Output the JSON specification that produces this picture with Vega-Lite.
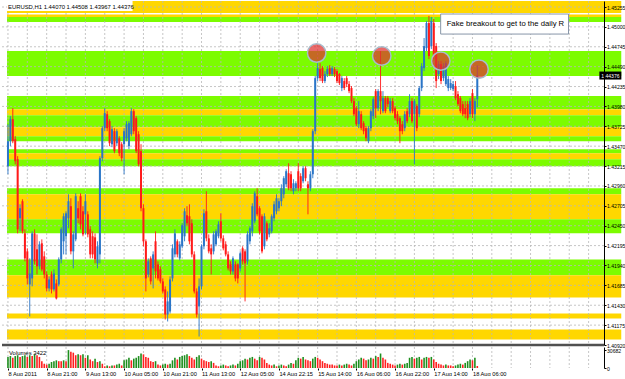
{
"$schema": "https://vega.github.io/schema/vega-lite/v6.json",
"background": "white",
"padding": 0,
"bounds": "flush",
"spacing": 2,
"config": {"view": {"stroke": null}, "font": "Liberation Sans", "axis": {"labelFont": "Liberation Sans", "labelColor": "#000000", "tickColor": "#000000", "domainColor": "#000000", "labelOverlap": false, "labelSeparation": 0}},
"datasets": {
"bars": [
{"i":0,"o":1.43213,"h":1.43752,"l":1.43110,"c":1.43534,"v":18993},
{"i":1,"o":1.43534,"h":1.43855,"l":1.43470,"c":1.43816,"v":20454},
{"i":2,"o":1.43816,"h":1.43958,"l":1.43508,"c":1.43534,"v":17532},
{"i":3,"o":1.43559,"h":1.43598,"l":1.43238,"c":1.43277,"v":20454},
{"i":4,"o":1.43303,"h":1.43342,"l":1.42352,"c":1.42404,"v":21915},
{"i":5,"o":1.42545,"h":1.42725,"l":1.42378,"c":1.42674,"v":18993},
{"i":6,"o":1.42764,"h":1.42789,"l":1.42352,"c":1.42378,"v":20454},
{"i":7,"o":1.42352,"h":1.42404,"l":1.41993,"c":1.42031,"v":21915},
{"i":8,"o":1.42121,"h":1.42160,"l":1.41697,"c":1.41774,"v":18993},
{"i":9,"o":1.41697,"h":1.42031,"l":1.41286,"c":1.41838,"v":21915},
{"i":10,"o":1.41774,"h":1.42378,"l":1.41672,"c":1.42352,"v":20454},
{"i":11,"o":1.42352,"h":1.42404,"l":1.41954,"c":1.41993,"v":23376},
{"i":12,"o":1.42147,"h":1.42339,"l":1.41825,"c":1.41929,"v":21915},
{"i":13,"o":1.41929,"h":1.42250,"l":1.41890,"c":1.42211,"v":18993},
{"i":14,"o":1.42224,"h":1.42275,"l":1.41864,"c":1.41890,"v":11688},
{"i":15,"o":1.42057,"h":1.42121,"l":1.41774,"c":1.41825,"v":7305},
{"i":16,"o":1.41825,"h":1.41864,"l":1.41607,"c":1.41646,"v":5844},
{"i":17,"o":1.41646,"h":1.41800,"l":1.41607,"c":1.41761,"v":7305},
{"i":18,"o":1.41825,"h":1.41864,"l":1.41581,"c":1.41633,"v":10227},
{"i":19,"o":1.41633,"h":1.41890,"l":1.41607,"c":1.41838,"v":11688},
{"i":20,"o":1.41710,"h":1.41761,"l":1.41504,"c":1.41517,"v":13149},
{"i":21,"o":1.41697,"h":1.42044,"l":1.41672,"c":1.42018,"v":11688},
{"i":22,"o":1.42018,"h":1.42430,"l":1.41967,"c":1.42404,"v":11688},
{"i":23,"o":1.42250,"h":1.42609,"l":1.42082,"c":1.42571,"v":13149},
{"i":24,"o":1.42314,"h":1.42635,"l":1.42082,"c":1.42609,"v":11688},
{"i":25,"o":1.42545,"h":1.42853,"l":1.42417,"c":1.42764,"v":30682},
{"i":26,"o":1.42700,"h":1.42802,"l":1.42082,"c":1.42121,"v":27759},
{"i":27,"o":1.42121,"h":1.42378,"l":1.41903,"c":1.42339,"v":26298},
{"i":28,"o":1.42275,"h":1.42866,"l":1.42250,"c":1.42828,"v":21915},
{"i":29,"o":1.42674,"h":1.42764,"l":1.42481,"c":1.42545,"v":23376},
{"i":30,"o":1.42828,"h":1.42866,"l":1.42404,"c":1.42468,"v":21915},
{"i":31,"o":1.42635,"h":1.42700,"l":1.42314,"c":1.42339,"v":23376},
{"i":32,"o":1.42596,"h":1.42853,"l":1.42339,"c":1.42764,"v":17532},
{"i":33,"o":1.42596,"h":1.42635,"l":1.42301,"c":1.42339,"v":21915},
{"i":34,"o":1.42404,"h":1.42443,"l":1.42031,"c":1.42082,"v":14610},
{"i":35,"o":1.42314,"h":1.42378,"l":1.42031,"c":1.42082,"v":11688},
{"i":36,"o":1.42301,"h":1.42352,"l":1.41967,"c":1.42018,"v":16071},
{"i":37,"o":1.41967,"h":1.42250,"l":1.41903,"c":1.42186,"v":10227},
{"i":38,"o":1.42082,"h":1.43342,"l":1.41967,"c":1.43316,"v":11688},
{"i":39,"o":1.43316,"h":1.43727,"l":1.43277,"c":1.43701,"v":7305},
{"i":40,"o":1.43701,"h":1.43958,"l":1.43662,"c":1.43893,"v":2922},
{"i":41,"o":1.43880,"h":1.43919,"l":1.43662,"c":1.43701,"v":4383},
{"i":42,"o":1.43791,"h":1.43816,"l":1.43470,"c":1.43508,"v":2922},
{"i":43,"o":1.43495,"h":1.43727,"l":1.43457,"c":1.43688,"v":4383},
{"i":44,"o":1.43662,"h":1.43701,"l":1.43380,"c":1.43406,"v":4383},
{"i":45,"o":1.43508,"h":1.43688,"l":1.43470,"c":1.43662,"v":5844},
{"i":46,"o":1.43572,"h":1.43598,"l":1.43342,"c":1.43380,"v":7305},
{"i":47,"o":1.43495,"h":1.43521,"l":1.43277,"c":1.43316,"v":4383},
{"i":48,"o":1.43495,"h":1.43701,"l":1.43110,"c":1.43662,"v":13149},
{"i":49,"o":1.43572,"h":1.43791,"l":1.43534,"c":1.43752,"v":14610},
{"i":50,"o":1.43470,"h":1.43791,"l":1.43431,"c":1.43765,"v":17532},
{"i":51,"o":1.43623,"h":1.43958,"l":1.43598,"c":1.43919,"v":13149},
{"i":52,"o":1.43919,"h":1.43945,"l":1.43623,"c":1.43662,"v":16071},
{"i":53,"o":1.43829,"h":1.43855,"l":1.43380,"c":1.43406,"v":17532},
{"i":54,"o":1.43623,"h":1.43662,"l":1.43213,"c":1.43238,"v":20454},
{"i":55,"o":1.43406,"h":1.43495,"l":1.42635,"c":1.42674,"v":24837},
{"i":56,"o":1.42674,"h":1.42725,"l":1.42186,"c":1.42250,"v":23376},
{"i":57,"o":1.42250,"h":1.42275,"l":1.41607,"c":1.41774,"v":18993},
{"i":58,"o":1.41825,"h":1.42031,"l":1.41787,"c":1.41993,"v":17532},
{"i":59,"o":1.42031,"h":1.42057,"l":1.41697,"c":1.41736,"v":11688},
{"i":60,"o":1.41903,"h":1.42121,"l":1.41646,"c":1.42082,"v":10227},
{"i":61,"o":1.42250,"h":1.42378,"l":1.41774,"c":1.41864,"v":11688},
{"i":62,"o":1.41954,"h":1.41993,"l":1.41748,"c":1.41774,"v":5844},
{"i":63,"o":1.41890,"h":1.41929,"l":1.41710,"c":1.41736,"v":4383},
{"i":64,"o":1.41736,"h":1.41774,"l":1.41581,"c":1.41607,"v":5844},
{"i":65,"o":1.41633,"h":1.41672,"l":1.41247,"c":1.41311,"v":7305},
{"i":66,"o":1.41311,"h":1.41607,"l":1.41222,"c":1.41479,"v":5844},
{"i":67,"o":1.41350,"h":1.41800,"l":1.41324,"c":1.41761,"v":7305},
{"i":68,"o":1.41774,"h":1.42211,"l":1.41736,"c":1.42160,"v":13149},
{"i":69,"o":1.42082,"h":1.42404,"l":1.42044,"c":1.42352,"v":17532},
{"i":70,"o":1.42250,"h":1.42275,"l":1.42044,"c":1.42082,"v":14610},
{"i":71,"o":1.42031,"h":1.42250,"l":1.42005,"c":1.42211,"v":18993},
{"i":72,"o":1.42186,"h":1.42481,"l":1.42160,"c":1.42456,"v":20454},
{"i":73,"o":1.42314,"h":1.42674,"l":1.42250,"c":1.42635,"v":21915},
{"i":74,"o":1.42584,"h":1.42700,"l":1.42443,"c":1.42481,"v":23376},
{"i":75,"o":1.42571,"h":1.42725,"l":1.42211,"c":1.42250,"v":20454},
{"i":76,"o":1.42481,"h":1.42532,"l":1.42044,"c":1.42082,"v":17532},
{"i":77,"o":1.42082,"h":1.42121,"l":1.41581,"c":1.41607,"v":14610},
{"i":78,"o":1.41607,"h":1.41646,"l":1.41273,"c":1.41311,"v":18993},
{"i":79,"o":1.41415,"h":1.41774,"l":1.41029,"c":1.41672,"v":21915},
{"i":80,"o":1.41672,"h":1.42211,"l":1.41633,"c":1.42186,"v":16071},
{"i":81,"o":1.42186,"h":1.42661,"l":1.42147,"c":1.42609,"v":13149},
{"i":82,"o":1.42635,"h":1.42892,"l":1.42250,"c":1.42288,"v":11688},
{"i":83,"o":1.42288,"h":1.42339,"l":1.42095,"c":1.42121,"v":10227},
{"i":84,"o":1.42160,"h":1.42211,"l":1.41825,"c":1.42082,"v":11688},
{"i":85,"o":1.42121,"h":1.42378,"l":1.42082,"c":1.42339,"v":8766},
{"i":86,"o":1.42211,"h":1.42404,"l":1.42186,"c":1.42378,"v":4383},
{"i":87,"o":1.42314,"h":1.42507,"l":1.42288,"c":1.42468,"v":2922},
{"i":88,"o":1.42507,"h":1.42609,"l":1.42250,"c":1.42288,"v":4383},
{"i":89,"o":1.42288,"h":1.42327,"l":1.42134,"c":1.42160,"v":5844},
{"i":90,"o":1.42211,"h":1.42250,"l":1.42057,"c":1.42082,"v":4383},
{"i":91,"o":1.42082,"h":1.42121,"l":1.41877,"c":1.41903,"v":2922},
{"i":92,"o":1.41954,"h":1.41993,"l":1.41825,"c":1.41864,"v":4383},
{"i":93,"o":1.41864,"h":1.42057,"l":1.41825,"c":1.42031,"v":5844},
{"i":94,"o":1.41954,"h":1.41993,"l":1.41736,"c":1.41774,"v":4383},
{"i":95,"o":1.41954,"h":1.41967,"l":1.41710,"c":1.41774,"v":7305},
{"i":96,"o":1.41903,"h":1.42121,"l":1.41864,"c":1.42095,"v":11688},
{"i":97,"o":1.42160,"h":1.42186,"l":1.41954,"c":1.41993,"v":13149},
{"i":98,"o":1.42121,"h":1.42147,"l":1.41479,"c":1.41967,"v":16071},
{"i":99,"o":1.41993,"h":1.42378,"l":1.41954,"c":1.42339,"v":14610},
{"i":100,"o":1.42250,"h":1.42443,"l":1.42211,"c":1.42417,"v":17532},
{"i":101,"o":1.42378,"h":1.42738,"l":1.42314,"c":1.42700,"v":18993},
{"i":102,"o":1.42507,"h":1.42892,"l":1.42481,"c":1.42866,"v":16071},
{"i":103,"o":1.42828,"h":1.42930,"l":1.42571,"c":1.42596,"v":13149},
{"i":104,"o":1.42674,"h":1.42700,"l":1.42339,"c":1.42378,"v":18993},
{"i":105,"o":1.42571,"h":1.42596,"l":1.42095,"c":1.42121,"v":17532},
{"i":106,"o":1.42186,"h":1.42609,"l":1.42147,"c":1.42571,"v":14610},
{"i":107,"o":1.42481,"h":1.42507,"l":1.42250,"c":1.42275,"v":8766},
{"i":108,"o":1.42339,"h":1.42481,"l":1.42301,"c":1.42417,"v":5844},
{"i":109,"o":1.42378,"h":1.42596,"l":1.42352,"c":1.42571,"v":4383},
{"i":110,"o":1.42545,"h":1.42764,"l":1.42507,"c":1.42725,"v":5844},
{"i":111,"o":1.42635,"h":1.42853,"l":1.42596,"c":1.42802,"v":2922},
{"i":112,"o":1.42674,"h":1.42802,"l":1.42635,"c":1.42764,"v":4383},
{"i":113,"o":1.42764,"h":1.42981,"l":1.42700,"c":1.42930,"v":5844},
{"i":114,"o":1.42853,"h":1.43085,"l":1.42802,"c":1.43059,"v":4383},
{"i":115,"o":1.42981,"h":1.43174,"l":1.42943,"c":1.43149,"v":2922},
{"i":116,"o":1.43123,"h":1.43251,"l":1.42904,"c":1.42930,"v":5844},
{"i":117,"o":1.43110,"h":1.43149,"l":1.42892,"c":1.42930,"v":8766},
{"i":118,"o":1.42892,"h":1.43046,"l":1.42853,"c":1.42994,"v":7305},
{"i":119,"o":1.42930,"h":1.43020,"l":1.42892,"c":1.42994,"v":13149},
{"i":120,"o":1.43149,"h":1.43251,"l":1.42892,"c":1.42930,"v":17532},
{"i":121,"o":1.43085,"h":1.43123,"l":1.42892,"c":1.42930,"v":16071},
{"i":122,"o":1.43020,"h":1.43213,"l":1.42994,"c":1.43187,"v":18993},
{"i":123,"o":1.43187,"h":1.43213,"l":1.43020,"c":1.43059,"v":14610},
{"i":124,"o":1.42981,"h":1.43020,"l":1.42596,"c":1.42930,"v":13149},
{"i":125,"o":1.42930,"h":1.43149,"l":1.42892,"c":1.43110,"v":11688},
{"i":126,"o":1.43110,"h":1.43688,"l":1.43059,"c":1.43662,"v":16071},
{"i":127,"o":1.43662,"h":1.44369,"l":1.43623,"c":1.44343,"v":18993},
{"i":128,"o":1.44343,"h":1.44535,"l":1.44305,"c":1.44471,"v":17532},
{"i":129,"o":1.44458,"h":1.44535,"l":1.44305,"c":1.44343,"v":14610},
{"i":130,"o":1.44471,"h":1.44497,"l":1.44279,"c":1.44305,"v":11688},
{"i":131,"o":1.44305,"h":1.44433,"l":1.44279,"c":1.44394,"v":8766},
{"i":132,"o":1.44394,"h":1.44497,"l":1.44356,"c":1.44458,"v":7305},
{"i":133,"o":1.44471,"h":1.44510,"l":1.44369,"c":1.44394,"v":5844},
{"i":134,"o":1.44394,"h":1.44497,"l":1.44369,"c":1.44471,"v":5844},
{"i":135,"o":1.44458,"h":1.44484,"l":1.44356,"c":1.44394,"v":4383},
{"i":136,"o":1.44433,"h":1.44458,"l":1.44279,"c":1.44305,"v":4383},
{"i":137,"o":1.44394,"h":1.44407,"l":1.44254,"c":1.44279,"v":5844},
{"i":138,"o":1.44215,"h":1.44369,"l":1.44176,"c":1.44343,"v":4383},
{"i":139,"o":1.44305,"h":1.44343,"l":1.44189,"c":1.44215,"v":5844},
{"i":140,"o":1.44343,"h":1.44369,"l":1.44228,"c":1.44266,"v":7305},
{"i":141,"o":1.44266,"h":1.44305,"l":1.44150,"c":1.44176,"v":5844},
{"i":142,"o":1.44215,"h":1.44241,"l":1.44022,"c":1.44048,"v":4383},
{"i":143,"o":1.44048,"h":1.44086,"l":1.43855,"c":1.43880,"v":7305},
{"i":144,"o":1.43958,"h":1.43984,"l":1.43727,"c":1.43752,"v":11688},
{"i":145,"o":1.43752,"h":1.44048,"l":1.43701,"c":1.43919,"v":14610},
{"i":146,"o":1.43880,"h":1.43919,"l":1.43675,"c":1.43701,"v":17532},
{"i":147,"o":1.43765,"h":1.43791,"l":1.43623,"c":1.43662,"v":16071},
{"i":148,"o":1.43701,"h":1.43727,"l":1.43534,"c":1.43572,"v":13149},
{"i":149,"o":1.43534,"h":1.43727,"l":1.43508,"c":1.43701,"v":14610},
{"i":150,"o":1.43701,"h":1.43945,"l":1.43662,"c":1.43919,"v":17532},
{"i":151,"o":1.43855,"h":1.44099,"l":1.43816,"c":1.44073,"v":16071},
{"i":152,"o":1.44176,"h":1.44202,"l":1.43829,"c":1.43958,"v":20454},
{"i":153,"o":1.43958,"h":1.44202,"l":1.43919,"c":1.44176,"v":18993},
{"i":154,"o":1.44176,"h":1.44690,"l":1.43880,"c":1.44048,"v":24837},
{"i":155,"o":1.43919,"h":1.44176,"l":1.43893,"c":1.44086,"v":17532},
{"i":156,"o":1.44086,"h":1.44112,"l":1.43893,"c":1.43919,"v":14610},
{"i":157,"o":1.44086,"h":1.44112,"l":1.43971,"c":1.44009,"v":8766},
{"i":158,"o":1.43919,"h":1.44086,"l":1.43893,"c":1.44048,"v":7305},
{"i":159,"o":1.44048,"h":1.44086,"l":1.43893,"c":1.43919,"v":5844},
{"i":160,"o":1.43958,"h":1.43984,"l":1.43803,"c":1.43829,"v":4383},
{"i":161,"o":1.43880,"h":1.43919,"l":1.43752,"c":1.43791,"v":5844},
{"i":162,"o":1.43829,"h":1.43855,"l":1.43508,"c":1.43662,"v":7305},
{"i":163,"o":1.43752,"h":1.43791,"l":1.43623,"c":1.43662,"v":5844},
{"i":164,"o":1.43701,"h":1.43919,"l":1.43662,"c":1.43880,"v":7305},
{"i":165,"o":1.43919,"h":1.43958,"l":1.43765,"c":1.43791,"v":8766},
{"i":166,"o":1.43880,"h":1.44137,"l":1.43842,"c":1.44048,"v":17532},
{"i":167,"o":1.44048,"h":1.44086,"l":1.43765,"c":1.43791,"v":18993},
{"i":168,"o":1.43880,"h":1.44073,"l":1.43238,"c":1.44048,"v":16071},
{"i":169,"o":1.43984,"h":1.44009,"l":1.43662,"c":1.43701,"v":17532},
{"i":170,"o":1.43880,"h":1.44241,"l":1.43842,"c":1.44215,"v":18993},
{"i":171,"o":1.44215,"h":1.44535,"l":1.44176,"c":1.44497,"v":14610},
{"i":172,"o":1.44471,"h":1.44857,"l":1.44433,"c":1.44754,"v":17532},
{"i":173,"o":1.44728,"h":1.45075,"l":1.44690,"c":1.45049,"v":18993},
{"i":174,"o":1.45049,"h":1.45140,"l":1.44587,"c":1.44626,"v":17532},
{"i":175,"o":1.44754,"h":1.45127,"l":1.44715,"c":1.45075,"v":18993},
{"i":176,"o":1.45049,"h":1.45101,"l":1.44587,"c":1.44626,"v":14610},
{"i":177,"o":1.44754,"h":1.44792,"l":1.44215,"c":1.44305,"v":10227},
{"i":178,"o":1.44394,"h":1.44561,"l":1.44330,"c":1.44522,"v":7305},
{"i":179,"o":1.44522,"h":1.44561,"l":1.44266,"c":1.44305,"v":5844},
{"i":180,"o":1.44343,"h":1.44535,"l":1.44305,"c":1.44497,"v":4383},
{"i":181,"o":1.44266,"h":1.44561,"l":1.44241,"c":1.44535,"v":5844},
{"i":182,"o":1.44215,"h":1.44369,"l":1.44176,"c":1.44330,"v":4383},
{"i":183,"o":1.44215,"h":1.44330,"l":1.44189,"c":1.44279,"v":4383},
{"i":184,"o":1.44202,"h":1.44305,"l":1.44176,"c":1.44266,"v":2922},
{"i":185,"o":1.44241,"h":1.44305,"l":1.44060,"c":1.44086,"v":4383},
{"i":186,"o":1.44137,"h":1.44176,"l":1.43984,"c":1.44009,"v":5844},
{"i":187,"o":1.44086,"h":1.44112,"l":1.43893,"c":1.43919,"v":7305},
{"i":188,"o":1.44009,"h":1.44048,"l":1.43855,"c":1.43880,"v":5844},
{"i":189,"o":1.43958,"h":1.44048,"l":1.43829,"c":1.43880,"v":8766},
{"i":190,"o":1.44009,"h":1.44048,"l":1.43803,"c":1.43829,"v":11688},
{"i":191,"o":1.43880,"h":1.44086,"l":1.43842,"c":1.44048,"v":14610},
{"i":192,"o":1.44150,"h":1.44202,"l":1.43829,"c":1.43880,"v":13149},
{"i":193,"o":1.43880,"h":1.44086,"l":1.43791,"c":1.44048,"v":17532},
{"i":194,"o":1.44070,"h":1.44508,"l":1.43967,"c":1.44376,"v":3422}
],
"bands": [
{"top":1.45332,"bottom":1.45178,"kind":"gold"},
{"top":1.45159,"bottom":1.45127,"kind":"gold"},
{"top":1.45127,"bottom":1.45062,"kind":"green"},
{"top":1.44690,"bottom":1.44369,"kind":"green"},
{"top":1.44112,"bottom":1.43945,"kind":"green"},
{"top":1.43945,"bottom":1.43868,"kind":"gold"},
{"top":1.43868,"bottom":1.43714,"kind":"green"},
{"top":1.43714,"bottom":1.43598,"kind":"gold"},
{"top":1.43598,"bottom":1.43534,"kind":"green"},
{"top":1.43431,"bottom":1.43380,"kind":"green"},
{"top":1.43380,"bottom":1.43303,"kind":"gold"},
{"top":1.43303,"bottom":1.43213,"kind":"green"},
{"top":1.42930,"bottom":1.42853,"kind":"green"},
{"top":1.42853,"bottom":1.42532,"kind":"gold"},
{"top":1.42532,"bottom":1.42352,"kind":"green"},
{"top":1.42018,"bottom":1.41813,"kind":"green"},
{"top":1.41813,"bottom":1.41530,"kind":"gold"},
{"top":1.41324,"bottom":1.41260,"kind":"gold"},
{"top":1.41119,"bottom":1.40990,"kind":"gold"}
],
"gridY": [{"p":1.45255},{"p":1.45},{"p":1.44745},{"p":1.4449},{"p":1.44235},{"p":1.4398},{"p":1.43725},{"p":1.4347},{"p":1.43215},{"p":1.4296},{"p":1.42705},{"p":1.4245},{"p":1.42195},{"p":1.4194},{"p":1.41685},{"p":1.4143},{"p":1.41175}],
"gridX": [{"i":0},{"i":8},{"i":16},{"i":24},{"i":32},{"i":40},{"i":48},{"i":56},{"i":64},{"i":72},{"i":80},{"i":88},{"i":96},{"i":104},{"i":112},{"i":120},{"i":128},{"i":136},{"i":144},{"i":152},{"i":160},{"i":168},{"i":176},{"i":184},{"i":192},{"i":200},{"i":208},{"i":216},{"i":224},{"i":232},{"i":240}],
"circles": [{"i":127.6,"p":1.44664},{"i":154.5,"p":1.44626},{"i":178.9,"p":1.44561},{"i":194.7,"p":1.44458}],
"note": [{"x1":178.85,"x2":231.7,"p1":1.45165,"p2":1.44908,"t":"Fake breakout to get to the daily R"}]
},
"vconcat": [
{
"width": 602,
"height": 344,
"layer": [
{"data": {"name": "bands"}, "mark": {"type": "rect"},
 "encoding": {
  "x": {"datum": -0.4, "type": "quantitative", "scale": {"domain": [-0.4, 244.3], "nice": false, "zero": false}, "axis": null},
  "x2": {"datum": 253.5},
  "y": {"field": "top", "type": "quantitative", "scale": {"domain": [1.4092, 1.45332], "nice": false, "zero": false},
        "axis": {"orient": "right", "values": [1.45255,1.45,1.44745,1.4449,1.44235,1.4398,1.43725,1.4347,1.43215,1.4296,1.42705,1.4245,1.42195,1.4194,1.41685,1.4143,1.41175,1.4092], "tickCount": 40, "format": ".5f", "labelFontSize": 5.1, "tickSize": 2, "labelPadding": 0.5, "domain": true, "grid": false, "zindex": 1, "title": null, "labelOverlap": false, "labelSeparation": 0, "labelBound": false}},
  "y2": {"field": "bottom"},
  "color": {"field": "kind", "type": "nominal", "scale": {"domain": ["gold", "green"], "range": ["#FFD700", "#7CFC00"]}, "legend": null}
 }},
{"data": {"name": "gridY"}, "mark": {"type": "rule", "color": "#b8b8b8", "strokeDash": [2, 2], "strokeWidth": 0.8},
 "encoding": {"y": {"field": "p", "type": "quantitative"}}},
{"data": {"name": "gridX"}, "mark": {"type": "rule", "color": "#b8b8b8", "strokeDash": [2, 2], "strokeWidth": 0.8},
 "encoding": {"x": {"field": "i", "type": "quantitative", "axis": null}}},
{"data": {"values": [{"t": "EURUSD,H1 1.44070 1.44508 1.43967 1.44376"}]}, "mark": {"type": "rect", "color": "white"},
 "encoding": {"x": {"datum": -0.4, "type": "quantitative", "axis": null}, "x2": {"datum": 51.5}, "y": {"datum": 1.45332, "type": "quantitative"}, "y2": {"datum": 1.45204}}},
{"data": {"values": [{"t": "EURUSD,H1 1.44070 1.44508 1.43967 1.44376"}]}, "mark": {"type": "text", "align": "left", "baseline": "middle", "dx": 1, "dy": 5.5, "fontSize": 5.9, "color": "#000000"},
 "encoding": {"x": {"datum": -0.4, "type": "quantitative", "axis": null}, "y": {"datum": 1.45332, "type": "quantitative"}, "text": {"field": "t"}}},
{"data": {"name": "bars"}, "mark": {"type": "rule", "strokeWidth": 0.9},
 "encoding": {
  "x": {"field": "i", "type": "quantitative", "axis": null},
  "y": {"field": "h", "type": "quantitative"},
  "y2": {"field": "l"},
  "color": {"condition": {"test": "datum.c >= datum.o", "value": "#2a75c8"}, "value": "#ff1a1a"}
 }},
{"data": {"name": "bars"}, "mark": {"type": "bar", "size": 2},
 "encoding": {
  "x": {"field": "i", "type": "quantitative", "axis": null},
  "y": {"field": "o", "type": "quantitative"},
  "y2": {"field": "c"},
  "color": {"condition": {"test": "datum.c >= datum.o", "value": "#2a75c8"}, "value": "#ff1a1a"}
 }},
{"data": {"name": "circles"}, "mark": {"type": "point", "shape": "circle", "filled": true, "size": 340, "fill": "#e03030", "fillOpacity": 0.72, "stroke": "#a8bccb", "strokeWidth": 1.5, "strokeOpacity": 1},
 "encoding": {"x": {"field": "i", "type": "quantitative", "axis": null}, "y": {"field": "p", "type": "quantitative"}}},
{"data": {"name": "note"}, "mark": {"type": "rect", "color": "#8a8a8a", "opacity": 0.5, "xOffset": 2, "yOffset": 2},
 "encoding": {"x": {"field": "x1", "type": "quantitative", "axis": null}, "x2": {"field": "x2"}, "y": {"field": "p1", "type": "quantitative"}, "y2": {"field": "p2"}}},
{"data": {"name": "note"}, "mark": {"type": "rect", "fill": "white", "stroke": "#8796a8", "strokeWidth": 1},
 "encoding": {"x": {"field": "x1", "type": "quantitative", "axis": null}, "x2": {"field": "x2"}, "y": {"field": "p1", "type": "quantitative"}, "y2": {"field": "p2"}}},
{"data": {"name": "note"}, "mark": {"type": "text", "align": "left", "baseline": "middle", "dx": 6, "dy": 10, "fontSize": 7.7, "color": "#000000"},
 "encoding": {"x": {"field": "x1", "type": "quantitative", "axis": null}, "y": {"field": "p1", "type": "quantitative"}, "text": {"field": "t"}}},
{"data": {"name": "bars"}, "transform": [{"filter": "datum.i == 194"}], "mark": {"type": "tick", "orient": "horizontal", "size": 22, "thickness": 8, "color": "#000000", "opacity": 1},
 "encoding": {"x": {"datum": 249.0, "type": "quantitative", "axis": null}, "y": {"field": "c", "type": "quantitative"}}},
{"data": {"name": "bars"}, "transform": [{"filter": "datum.i == 194"}], "mark": {"type": "text", "align": "center", "baseline": "middle", "fontSize": 5.1, "color": "white"},
 "encoding": {"x": {"datum": 249.0, "type": "quantitative", "axis": null}, "y": {"field": "c", "type": "quantitative"}, "text": {"field": "c", "format": ".5f"}}},
{"data": {"values": [{"t": "sep"}]}, "mark": {"type": "rule", "color": "#505050", "strokeWidth": 2.4},
 "encoding": {"y": {"datum": 1.4092, "type": "quantitative"}}}
]
},
{
"width": 602,
"height": 21,
"layer": [
{"data": {"name": "gridX"}, "mark": {"type": "rule", "color": "#b8b8b8", "strokeDash": [2, 2], "strokeWidth": 0.8},
 "encoding": {"x": {"field": "i", "type": "quantitative", "scale": {"domain": [-0.4, 244.3], "nice": false, "zero": false}}}},
{"data": {"name": "bars"},
 "transform": [{"window": [{"op": "lag", "field": "v", "as": "pv"}], "sort": [{"field": "i", "order": "ascending"}]}],
 "mark": {"type": "bar", "size": 1.6},
 "encoding": {
  "x": {"field": "i", "type": "quantitative",
        "axis": {"orient": "bottom", "values": [0,16,32,48,64,80,96,112,128,144,160,176,192], "tickCount": 40, "labelExpr": "['8 Aug 2011','8 Aug 21:00','9 Aug 13:00','10 Aug 05:00','10 Aug 21:00','11 Aug 13:00','12 Aug 05:00','14 Aug 22:15','15 Aug 14:00','16 Aug 06:00','16 Aug 22:00','17 Aug 14:00','18 Aug 06:00'][round(datum.value/16)]", "labelAlign": "left", "labelFontSize": 5.7, "labelPadding": 0, "tickSize": 2, "domain": false, "grid": false, "labelFlush": false, "labelOverlap": false, "title": null}},
  "y": {"field": "v", "type": "quantitative", "scale": {"domain": [0, 36000], "nice": false, "zero": true},
        "axis": {"orient": "right", "values": [0, 30682], "format": "d", "labelFontSize": 5.1, "tickSize": 2, "labelPadding": 0.5, "domain": true, "grid": false, "title": null, "labelOverlap": false}},
  "color": {"condition": {"test": "datum.pv == null || datum.v > datum.pv", "value": "#1e8f1e"}, "value": "#ff2020"}
 }},
{"data": {"values": [{"t": "Volumes 3422"}]}, "mark": {"type": "text", "align": "left", "baseline": "middle", "dx": 2, "dy": 6, "fontSize": 5.9, "color": "#000000"},
 "encoding": {"x": {"datum": -0.4, "type": "quantitative"}, "y": {"datum": 36000, "type": "quantitative"}, "text": {"field": "t"}}}
]
}
]
}
